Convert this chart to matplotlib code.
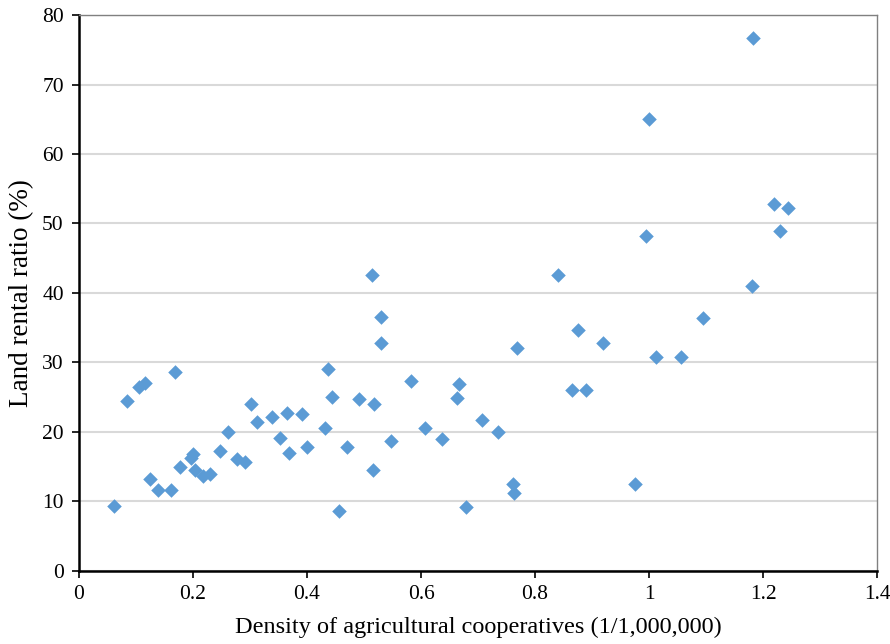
import numpy as np
import matplotlib.pyplot as plt

density = [0.061, 0.084, 0.105, 0.115, 0.168, 0.124, 0.139, 0.161, 0.178, 0.197,
           0.200, 0.204, 0.218, 0.230, 0.248, 0.261, 0.278, 0.292, 0.302, 0.313,
           0.339, 0.352, 0.364, 0.368, 0.391, 0.400, 0.431, 0.437, 0.443, 0.456,
           0.470, 0.491, 0.514, 0.517, 0.516, 0.530, 0.530, 0.547, 0.582, 0.607,
           0.637, 0.667, 0.663, 0.679, 0.707, 0.735, 0.761, 0.763, 0.768, 0.840,
           0.875, 0.865, 0.889, 0.919, 0.975, 0.995, 1.000, 1.012, 1.056, 1.095,
           1.181, 1.182, 1.219, 1.230, 1.244]
rental = [9.4, 24.4, 26.5, 27.0, 28.7, 13.2, 11.6, 11.6, 14.9, 16.2,
          16.9, 14.5, 13.7, 13.9, 17.3, 20.0, 16.1, 15.7, 24.0, 21.5,
          22.1, 19.2, 22.7, 17.0, 22.6, 17.8, 20.6, 29.0, 25.0, 8.6,
          17.9, 24.7, 42.6, 24.0, 14.5, 36.5, 32.8, 18.7, 27.3, 20.6,
          19.0, 26.9, 24.9, 9.2, 21.7, 20.0, 12.5, 11.2, 32.1, 42.6,
          34.7, 26.0, 26.0, 32.8, 12.5, 48.2, 65.0, 30.8, 30.8, 36.4,
          41.0, 76.7, 52.8, 48.9, 52.2]
xticks = [0, 0.2, 0.4, 0.6, 0.8, 1, 1.2, 1.4]
xtick_labels = ['0', '0.2', '0.4', '0.6', '0.8', '1', '1.2', '1.4']
yticks = [0, 10, 20, 30, 40, 50, 60, 70, 80]

plt.rcParams['font.family'] = ['Liberation Serif', 'DejaVu Serif']

fig = plt.figure(figsize=(8.9, 6.44), dpi=100)
ax = fig.add_axes([0.0888, 0.1134, 0.8966, 0.8633])
ax.scatter(density, rental, marker='D', s=55, color='#5B9BD5', linewidths=0, zorder=3)

ax.set_xlim(0, 1.4)
ax.set_ylim(0, 80)
ax.set_xticks(xticks)
ax.set_xticklabels(xtick_labels)
ax.set_yticks(yticks)
ax.yaxis.grid(True, color='#D9D9D9', linewidth=1.5)
ax.set_axisbelow(True)

for side in ['top', 'right']:
    ax.spines[side].set_color('#808080')
    ax.spines[side].set_linewidth(1)
for side in ['left', 'bottom']:
    ax.spines[side].set_color('black')
    ax.spines[side].set_linewidth(1.8)

ax.tick_params(axis='both', labelsize=15.5, length=5, width=1.2, direction='out')
ax.tick_params(axis='y', pad=6)
ax.tick_params(axis='x', pad=5)
ax.set_xlabel('Density of agricultural cooperatives (1/1,000,000)', fontsize=17.5, labelpad=9)
ax.set_ylabel('Land rental ratio (%)', fontsize=19.5, labelpad=6)

fig.savefig('out.png', dpi=100)
